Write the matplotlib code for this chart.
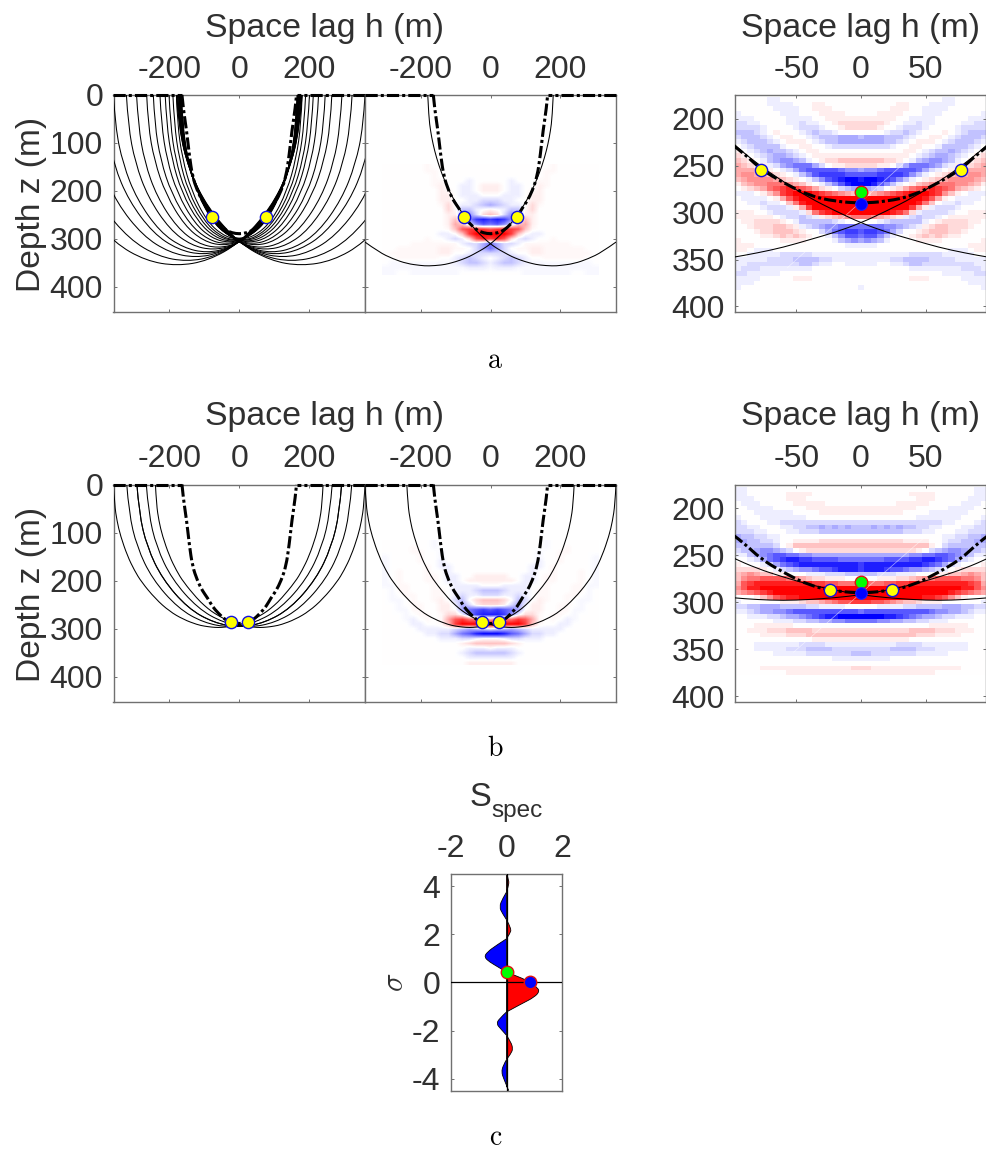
import numpy as np
from matplotlib import pyplot as plt
from matplotlib.patches import PathPatch
from matplotlib.path import Path

plt.rcParams["font.family"] = ["Liberation Sans", "DejaVu Sans"]
plt.rcParams["mathtext.fontset"] = "cm"

W = 986.0
H = 1151.0
TXT = "#303030"
EDGE = "#707070"

#########################################
### Curves (h, z in m)
#########################################
# thick dash-dot curve, left half, mirrored when drawn; flat along z=0 outside it
dash_h = [-164, -160, -151, -143, -134, -120, -105, -91, -77, -60, -40, -20, 0]
dash_z = [0, 30, 73, 125, 170, 200, 222, 236, 254, 268, 282, 288, 290]
flat_h = [-360, -164]
flat_z = [0, 0]

# row a, left panel family (the mirror image is drawn too)
fam_a_h = [
    [-536, -529, -500, -446, -357, -268, -178, -89, 1, 90, 144, 173, 180],
    [-479, -472, -446, -397, -315, -232, -150, -68, 15, 97, 146, 172, 179],
    [-426, -420, -396, -351, -276, -200, -125, -50, 26, 101, 146, 170, 176],
    [-387, -381, -359, -316, -246, -175, -105, -34, 36, 106, 149, 171, 177],
    [-360, -355, -333, -293, -227, -160, -93, -26, 41, 107, 147, 169, 174],
    [-323, -318, -298, -261, -199, -137, -75, -13, 49, 111, 148, 168, 173],
    [-294, -289, -271, -236, -178, -119, -61, -3, 56, 114, 149, 167, 172],
    [-265, -261, -243, -210, -156, -102, -47, 8, 62, 117, 149, 167, 171],
    [-246, -242, -225, -194, -142, -90, -38, 14, 66, 118, 149, 166, 170],
    [-227, -223, -207, -178, -128, -79, -29, 21, 70, 120, 149, 165, 169],
    [-212, -208, -193, -165, -117, -70, -22, 26, 73, 121, 149, 164, 168],
    [-201, -197, -183, -155, -109, -63, -17, 29, 75, 121, 149, 163, 167],
    [-190, -186, -172, -146, -101, -56, -12, 33, 77, 122, 148, 162, 166],
    [-180, -177, -163, -137, -94, -50, -7, 36, 80, 123, 149, 163, 166],
]
fam_a_z = [
    [0, 71, 156, 236, 309, 346, 357, 346, 309, 236, 156, 71, 0],
    [0, 69, 152, 230, 301, 337, 348, 337, 301, 230, 152, 69, 0],
    [0, 68, 148, 225, 294, 329, 340, 329, 294, 225, 148, 68, 0],
    [0, 66, 146, 221, 289, 323, 334, 323, 289, 221, 146, 66, 0],
    [0, 66, 144, 218, 286, 319, 330, 319, 286, 218, 144, 66, 0],
    [0, 64, 141, 214, 281, 314, 324, 314, 281, 214, 141, 64, 0],
    [0, 64, 140, 212, 277, 310, 320, 310, 277, 212, 140, 64, 0],
    [0, 63, 137, 208, 273, 305, 315, 305, 273, 208, 137, 63, 0],
    [0, 62, 136, 206, 270, 302, 312, 302, 270, 206, 136, 62, 0],
    [0, 61, 135, 204, 268, 299, 309, 299, 268, 204, 135, 61, 0],
    [0, 61, 134, 203, 266, 297, 307, 297, 266, 203, 134, 61, 0],
    [0, 61, 133, 202, 264, 295, 305, 295, 264, 202, 133, 61, 0],
    [0, 60, 133, 201, 263, 294, 304, 294, 263, 201, 133, 60, 0],
    [0, 60, 132, 200, 262, 292, 302, 292, 262, 200, 132, 60, 0],
]

# outer curve of row a, used in the middle and right panels
edge_a_h = [-360, -320, -280, -240, -200, -178, -140, -120, -100, -80, -60, -40, -20, 0, 20, 40, 60, 80, 100,
            120, 140, 155, 165, 172, 177, 180]
edge_a_z = [307, 328, 342, 352, 356, 357, 355, 352, 348, 343, 337, 329, 321, 311, 298, 284, 267, 248, 225,
            198, 164, 131, 102, 75, 46, 0]

# row b
edge_b_h = [-360, -357, -350, -340, -320, -300, -280, -240, -200, -160, -120, -100, -80, -60, -40, -20, 0, 20,
            40, 60, 80, 100, 120, 160, 180, 200, 220, 230, 237, 240]
edge_b_z = [0, 42, 76, 107, 149, 179, 203, 238, 264, 281, 292, 295, 297, 298, 297, 295, 292, 287,
            281, 273, 264, 252, 238, 203, 179, 149, 107, 76, 42, 0]
mid_b_h = [-322, -316, -293, -249, -175, -102, -28, 46, 119, 193, 237, 260, 266]
mid_b_z = [0, 59, 130, 197, 258, 288, 298, 288, 258, 197, 130, 59, 0]
cen_b_h = [-293, -287, -264, -220, -147, -73, 0, 73, 147, 220, 264, 287, 293]
cen_b_z = [0, 59, 130, 197, 258, 288, 298, 288, 258, 197, 130, 59, 0]

# yellow, green and blue points
yellow_a = (77, 255)
yellow_b = (24, 287)
green_z = 278
blue_z = 290.5

# faint white streak in the zoomed images
streak_a_h, streak_a_z = [-57, 35], [359, 245]
streak_b_h, streak_b_z = [-52, 48], [353, 232]

#########################################
### Images, half sections (h >= 0), scale -10..10
#########################################
zoom_z0 = 180  # first row depth, 5 m rows
zoom_dh = 5
zoom_a = [
    [0, 0, 0, 0, 0, 0, 0, 0, 0, 0, 0, 0, 0, -1, -1, 0, 0, 0, 0, 0],
    [0, 0, 0, 0, 0, 0, 1, 1, 0, 0, 0, -1, -1, -1, -1, 0, 0, 0, 0, 0],
    [0, 0, 0, 0, 0, 1, 1, 1, 0, 0, -1, -1, -1, -1, 0, 0, 0, 0, 0, 0],
    [0, 0, 0, 1, 1, 1, 1, 0, 0, 0, -1, -1, -1, 0, 0, 0, 0, 0, 0, -1],
    [1, 1, 1, 1, 1, 1, 0, 0, -1, -1, -1, -1, 0, 0, 0, 0, 0, -1, -1, -1],
    [2, 2, 2, 2, 1, 0, 0, -1, -1, -2, -1, -1, 0, 0, 0, 0, -1, -1, -2, -2],
    [2, 2, 2, 1, 0, 0, -1, -2, -2, -2, -1, 0, 0, 0, 0, -1, -2, -2, -2, -2],
    [0, 0, 0, 0, -1, -2, -2, -3, -2, -1, 0, 0, 0, 1, 0, -1, -2, -3, -3, -3],
    [-3, -4, -4, -4, -3, -3, -3, -2, -1, 0, 0, 1, 1, 0, -1, -2, -3, -3, -3, -2],
    [-4, -4, -4, -4, -3, -3, -2, -1, 0, 1, 1, 1, 0, -1, -2, -3, -3, -3, -2, -1],
    [-2, -2, -2, -2, -2, -1, 0, 0, 1, 1, 0, 0, -1, -3, -3, -3, -3, -2, -1, 0],
    [0, 0, 0, 0, 0, 0, 0, 1, 1, 0, -1, -2, -3, -3, -4, -3, -2, -1, 0, 1],
    [1, 1, 1, 1, 1, 1, 1, 1, 0, -1, -2, -3, -4, -4, -3, -2, -1, 0, 1, 2],
    [3, 3, 3, 3, 2, 2, 1, 0, -1, -3, -4, -5, -5, -4, -3, -1, 0, 1, 2, 3],
    [2, 2, 2, 1, 1, 0, -2, -4, -6, -6, -6, -5, -4, -2, -1, 1, 1, 2, 3, 4],
    [-4, -5, -5, -6, -7, -7, -7, -7, -7, -6, -4, -2, -1, 0, 1, 2, 3, 4, 4, 4],
    [-7, -7, -7, -8, -8, -8, -8, -7, -5, -3, -1, 0, 1, 2, 3, 4, 4, 5, 5, 4],
    [-9, -10, -10, -9, -8, -7, -5, -3, -1, 0, 1, 2, 3, 4, 5, 5, 5, 5, 4, 3],
    [-10, -10, -9, -7, -5, -3, -1, 0, 1, 3, 4, 5, 6, 6, 6, 5, 5, 4, 3, 1],
    [-5, -4, -3, -2, 0, 1, 2, 4, 6, 7, 8, 9, 8, 7, 6, 4, 3, 2, 1, 0],
    [2, 3, 4, 5, 6, 7, 8, 9, 10, 10, 10, 9, 8, 5, 3, 1, 0, -1, -1, -1],
    [9, 10, 10, 10, 10, 10, 10, 10, 10, 10, 9, 7, 4, 1, 0, -1, -1, -1, -1, 0],
    [10, 10, 10, 10, 10, 10, 10, 10, 10, 9, 6, 3, 0, -1, -1, -2, -1, -1, 0, 0],
    [10, 10, 10, 10, 10, 10, 10, 10, 8, 4, 1, -1, -2, -2, -2, -1, 0, 0, 0, 0],
    [10, 10, 10, 10, 10, 9, 8, 6, 2, -1, -2, -2, -2, -2, -1, 0, 0, 1, 1, 1],
    [6, 6, 5, 4, 3, 2, 1, -1, -2, -3, -2, -2, -1, 0, 1, 1, 1, 1, 1, 1],
    [0, 0, 0, -1, -2, -3, -3, -3, -3, -3, -1, 0, 1, 2, 2, 2, 2, 1, 1, 0],
    [-6, -6, -6, -6, -5, -5, -4, -3, -2, -1, 1, 2, 3, 3, 2, 2, 2, 1, 0, 0],
    [-7, -8, -8, -7, -6, -4, -2, 0, 0, 1, 2, 3, 3, 3, 2, 2, 1, 0, 0, 0],
    [-6, -7, -7, -5, -3, -1, 0, 0, 1, 2, 3, 2, 3, 2, 1, 1, 0, 0, 0, 0],
    [-4, -5, -4, -3, -1, 0, 0, 0, 0, 1, 1, 1, 1, 0, 0, 0, 0, 0, 0, 1],
    [-1, -1, -1, 0, 0, 0, 0, 0, 0, 0, 0, 0, 0, 0, 0, 0, 0, 1, 1, 1],
    [0, 0, 0, 0, 0, 0, 0, 0, 0, 0, 0, 0, 0, 0, -1, -1, -1, 0, 1, 1],
    [-1, -1, -1, -1, -1, -1, -1, -1, -2, -2, -2, -2, -2, -1, -1, -1, -1, -1, 0, 0],
    [-1, -1, -1, -1, -1, -2, -2, -3, -3, -3, -3, -2, -2, -2, -2, -1, -1, -1, -1, -1],
    [-1, -1, -1, 0, 0, -1, -1, -2, -3, -3, -2, -2, -2, -2, -2, -2, -2, -2, -1, -1],
    [0, 0, 0, 0, 0, 0, 0, 0, -1, -1, -1, -1, -1, -1, -1, -1, -2, -2, -2, -1],
    [0, 0, 0, 0, 0, 0, 0, 0, 0, 0, 0, 0, 0, -1, -1, -1, -1, -1, -2, -2],
    [0, 0, 0, 0, 0, 0, 0, 0, 1, 1, 1, 0, 0, 0, 0, 0, -1, -1, -1, -1],
    [0, 0, 0, 0, 0, 0, 0, 0, 0, 0, 0, 0, 0, 0, 0, 0, 0, -1, -1, -1],
    [-1, 0, 0, 0, 0, 0, 0, 0, 0, 0, 0, 0, 0, 0, 0, 0, 0, 0, 0, -1],
]
zoom_b = [
    [0, 0, 0, 0, 0, 0, 0, 0, 0, 0, 0, 0, 0, 0, 0, 0, 0, 0, -1, -1],
    [0, 0, 0, 0, 0, 0, 0, 0, 1, 1, 1, 1, 0, 0, 0, 0, 0, 0, -1, -1],
    [0, 0, 0, 0, 0, 0, 0, 0, 0, 1, 1, 1, 0, 0, 0, 0, 0, -1, -1, -1],
    [0, 0, 0, 0, 0, 0, 1, 1, 1, 1, 1, 0, 0, 0, 0, 0, -1, -1, -1, 0],
    [1, 1, 1, 1, 1, 1, 1, 1, 1, 0, 0, 0, 0, 0, -1, -1, -1, -1, 0, 0],
    [1, 1, 1, 1, 1, 1, 1, 0, 0, 0, 0, -1, -1, -1, -1, -1, -1, 0, 0, 0],
    [0, 0, 0, 0, 0, 0, 0, 0, 0, -1, -1, -1, -1, -1, -1, -1, 0, 0, 0, -1],
    [-2, -2, -2, -2, -2, -2, -2, -2, -2, -2, -2, -2, -2, -1, -1, 0, 0, 0, -1, -2],
    [-3, -3, -4, -3, -4, -3, -4, -3, -3, -2, -2, -1, -1, 0, 0, 0, -1, -1, -2, -2],
    [-3, -3, -3, -3, -3, -3, -3, -2, -2, -2, -1, -1, 0, 0, 0, -1, -1, -2, -2, -2],
    [0, 0, 0, 0, 0, 0, 0, 0, 0, 0, 0, 0, 0, -1, -1, -2, -2, -3, -3, -4],
    [2, 2, 2, 2, 2, 2, 2, 1, 1, 1, 1, 0, 0, -1, -2, -2, -3, -3, -4, -4],
    [3, 3, 3, 3, 3, 3, 3, 3, 3, 3, 3, 1, 0, -2, -3, -3, -3, -3, -3, -3],
    [2, 2, 2, 2, 2, 2, 2, 2, 2, 1, 0, -2, -3, -4, -5, -5, -4, -3, -3, -2],
    [-4, -4, -4, -4, -4, -4, -4, -4, -5, -5, -6, -6, -7, -7, -6, -5, -4, -3, -1, -1],
    [-6, -6, -6, -6, -7, -7, -7, -7, -8, -8, -9, -9, -8, -7, -6, -4, -2, -1, 0, 0],
    [-8, -9, -9, -9, -9, -9, -9, -9, -9, -9, -8, -7, -6, -4, -2, -1, 0, 0, 0, 1],
    [-8, -9, -9, -9, -8, -7, -7, -6, -5, -5, -4, -3, -2, -1, 0, 1, 2, 2, 2, 2],
    [-3, -3, -3, -2, -2, -2, -1, -1, -1, 0, 0, 0, 1, 1, 3, 3, 4, 5, 4, 3],
    [0, 0, 0, 1, 1, 1, 2, 2, 3, 4, 5, 6, 7, 7, 7, 7, 6, 6, 5, 3],
    [5, 6, 6, 6, 7, 7, 8, 8, 9, 9, 9, 9, 9, 9, 9, 9, 9, 8, 7, 4],
    [10, 10, 10, 10, 10, 10, 10, 10, 10, 10, 10, 10, 10, 10, 10, 10, 9, 9, 7, 5],
    [10, 10, 10, 10, 10, 10, 10, 10, 10, 10, 10, 10, 10, 10, 9, 8, 7, 6, 5, 4],
    [10, 10, 10, 10, 10, 10, 10, 10, 10, 10, 9, 9, 8, 7, 5, 3, 1, 0, 0, 0],
    [8, 8, 7, 7, 6, 5, 4, 3, 3, 2, 1, 1, 1, 0, 0, 0, 0, 0, 0, -1],
    [0, 0, 0, -1, -1, -1, -1, -2, -2, -3, -3, -3, -3, -4, -4, -4, -3, -3, -2, -2],
    [-6, -7, -7, -7, -7, -7, -7, -7, -7, -7, -7, -6, -5, -5, -4, -4, -3, -2, -1, -1],
    [-10, -10, -10, -10, -9, -9, -8, -7, -6, -5, -4, -4, -3, -2, -2, -1, -1, -1, 0, 0],
    [-6, -6, -6, -5, -5, -4, -4, -3, -3, -2, -2, -1, -1, -1, 0, 0, 0, 0, 0, 0],
    [0, 0, 0, 0, 0, 0, 0, 0, 0, 0, 0, 1, 1, 1, 1, 1, 1, 0, 0, 0],
    [2, 2, 2, 2, 2, 2, 2, 2, 3, 3, 3, 3, 2, 2, 2, 1, 1, 1, 0, 0],
    [3, 3, 3, 3, 3, 3, 3, 3, 3, 2, 2, 2, 1, 1, 1, 1, 0, 0, 0, 0],
    [1, 1, 1, 1, 1, 1, 1, 1, 0, 0, 0, 0, 0, 0, 0, 0, 0, 0, 0, 0],
    [-1, -1, -1, -1, -1, -1, -2, -2, -2, -2, -1, -1, -1, -1, -1, -1, -1, 0, 0, 0],
    [-2, -2, -2, -2, -2, -3, -3, -3, -3, -2, -2, -2, -1, -1, -1, -1, -1, 0, 0, 0],
    [-3, -3, -2, -2, -2, -2, -2, -2, -2, -1, -1, -1, -1, -1, 0, 0, 0, 0, 0, 0],
    [-1, -1, -1, -1, -1, 0, 0, 0, 0, 0, 0, 0, 0, 0, 0, 0, 0, 0, 0, 0],
    [0, 0, 0, 0, 0, 0, 0, 0, 0, 0, 0, 0, 0, 0, 0, 0, 0, 0, 0, 0],
    [2, 2, 1, 1, 1, 1, 1, 1, 1, 1, 1, 1, 1, 1, 1, 1, 0, 0, 0, 0],
    [1, 1, 1, 1, 1, 1, 1, 1, 1, 1, 1, 1, 0, 0, 0, 0, 0, 0, 0, 0],
]

# coarse sections for the middle panels, 20 m columns, 10 m rows
wide_dh = 20
wide_a_z0 = 150
wide_a = [
    [0, 0, 0, 0, 0, 0, 0, 0, 0, 0.5, 0, 0, 0, 0, 0, 0],
    [0, 0, 0, 0, 0, 0, 0, 0, 0.5, 0.5, 0, 0, 0, 0, 0, 0],
    [0, 0, 0, 0, 0, 0, 0, 0, 0.5, 0, 0, 0, 0, 0, 0, 0],
    [0, 0, 0, -1, 0, 0, 0, 0.5, 0.5, 0, 0, 0, 0, 0, 0, 0],
    [1, 1, 0, -1, -1, 0, 0, 1, 0.5, 0, 0, 0, 0, 0, 0, 0],
    [1, 1, 0, -1, -1, 0, 0.5, 1, 0, 0, 0, 0, 0, 0, 0, 0],
    [0, 0, -1, -1, -1, 0, 1, 1, 0, 0, 0, 0, 0, 0, 0, 0],
    [-2, -2, -1, -1, 0, 0, 1, 1, 0, 0, 0, 0, 0, 0, 0, 0],
    [-4, -3, -2, -1, -1, 0, 2, 0.5, 0, 0, 0, 0, 0, 0, 0, 0],
    [1, 0, -1, -3, -3, 0.5, 2, 0, 0, 0, 0, 0, 0, 0, 0, 0],
    [3, 2, -2, -5, -3, 1, 1, 0, 0, 0, 0, 0, 0, 0, 0, 0],
    [-8, -9, -8, -5, -1, 3, 1, 0, 0, 0, 0, 0, 0, 0, 0, 0],
    [-6, -7, -5, -2, 3, 4, 1, 0, 0, 0, 0, 0, 0, 0, 0, 0],
    [7, 8, 8, 8, 7, 3, 0.5, 0, 0, 0, 0, 0, 0, 0, 0, 0],
    [10, 10, 10, 8, 3, 0, -1, -1, 0, 0, 0, 0, 0, 0, 0, 0],
    [8, 9, 7, 2, -1, -2, -1, 0, 0, 0.5, 0, 0, 0, 0, 0, 0],
    [-6, -4, -2, -2, -1, 0.5, 0.5, 0.5, 0.5, 0.5, 0.5, 0.5, 0, 0, 0, 0],
    [-6, -4, -2, 0, 0.5, 0.5, 1, 1, 0.5, 0.5, 0.5, 0.5, 0.5, 0.5, 0, 0],
    [-2, -2, -2, -1, 0, 0, 1, 1, 0.5, 0.5, 0.5, 0.5, 0.5, 0.5, 0.5, 0],
    [0, -1, -2, -3, -2, -1, 0, 0, 0.5, 0.5, 0.5, 0.5, 0.5, 0.5, 0, 0],
    [-1, -2, -3, -3, -2, -1, -0.5, -0.5, -0.5, -0.5, -0.5, -0.5, -0.5, -0.5, -0.5, 0],
    [-0.5, -1, -1, -1, -0.5, -0.5, -0.5, -0.5, -0.5, -0.5, -0.5, -0.5, -0.5, -0.5, -0.5, -0.5],
    [0, 0, 0, 0, 0, -0.5, -0.5, -0.5, -0.5, -0.5, -0.5, -0.5, 0, 0, -0.5, -0.5],
]
wide_b_z0 = 120
wide_b = [
    [0, 0, 0, 0, 0, 0, 0, 0, -0.5, 0, 0, 0, 0, 0, 0, 0],
    [0, 0, 0, 0, 0, 0, 0, 0, -0.5, 0, 0, 0.5, 0, 0, 0, 0],
    [0, 0, 0, 0, 0, 0, 0, -0.5, 0, 0, 0.5, 0.5, 0, 0, 0, 0],
    [0, 0, 0, 0, 0, 0, 0, -0.5, 0, 0, 0.5, 0, 0, 0, 0, -0.5],
    [0, 0, 0, 0, 0, 0, 0, -1, 0, 0, 0.5, 0, 0, 0, 0, -0.5],
    [0, 0, 0, 0, 0, 0, -1, -1, 0, 0.5, 0, 0, 0, 0, 0, -0.5],
    [0, 0, 0, 0, 0, 0, -1, 0, 0, 0.5, 0, 0, 0, 0.5, 0, -0.5],
    [1, 1, 1, 0, 0, -1, -1, 0, 0.5, 0.5, 0, 0, 0, 0.5, 0, -0.5],
    [1, 1, 1, 1, 0, -1, -1, 0, 0.5, 0.5, 0, 0, 0, 0.5, 0, -0.5],
    [0, 0, -1, -1, -1, -1, 0, 0, 0.5, 0, 0, 0, 0.5, 0.5, -0.5, -0.5],
    [-3, -3, -2, -1, -1, -1, 0, 0.5, 0.5, 0, 0, 0, 0.5, 0.5, -0.5, 0],
    [-2, -2, -1, -1, -2, -1, 0, 0.5, 0.5, 0, 0, 0.5, 0.5, 0, -0.5, 0],
    [3, 3, 2, 0, -3, -2, 0, 1, 0.5, 0, 0, 0.5, 0, -0.5, -0.5, 0],
    [2, 2, 1, -2, -4, -1, 1, 1, 0, 0, 0.5, 0.5, 0, -0.5, 0, 0],
    [-7, -8, -7, -6, -4, 0, 1, 1, 0, 0, 0.5, 0.5, -0.5, -0.5, 0, 0],
    [-9, -9, -8, -5, -1, 2, 2, 0.5, 0, 0.5, 0.5, 0, -0.5, 0, 0, 0],
    [4, 6, 6, 6, 8, 7, 4, 0.5, 0, 0.5, 0, -1, -0.5, 0, 0, 0],
    [10, 10, 10, 10, 10, 8, 3, 0.5, 0, 0, -1, -1, 0, 0, 0, 0],
    [-1, -2, -3, -4, -3, -2, -1, -1, -1, -1, -1, 0, 0, 0, 0, 0],
    [-10, -10, -9, -7, -6, -4, -2, -2, -1, -1, 0, 0, 0, 0, 0, 0],
    [0, 0, -1, -2, -2, -1, -1, -1, 0, 0, 0, 0, 0, 0, 0, 0],
    [3, 3, 3, 2, 1, 0, 0, 0, 0, 0, 0, 0, 0, 0, 0, 0],
    [0, -1, -1, -1, 0, 0, 0, 0, 0, 0, 0, 0, 0, 0, 0, 0],
    [-3, -3, -3, -2, -1, 0, 0, 0, 0, 0, 0, 0, 0, 0, 0, 0],
    [-1, -1, -1, -1, 0, 0, 0, 0, 0, 0, 0, 0, 0, 0, 0, 0],
    [1, 1, 1, 1, 0, 0, 0, 0, 0, 0, 0, 0, 0, 0, 0, 0],
]

#########################################
### S_spec trace
#########################################
sigma = [4.5, 4.24, 3.96, 3.75, 3.48, 3.13, 2.85, 2.6, 2.23, 2.02, 1.81, 1.54, 1.26, 1.05, 0.84, 0.64, 0.42,
         0.22, 0.0, -0.19, -0.36, -0.61, -0.89, -1.23, -1.51, -1.72, -1.93, -2.2, -2.48, -2.76, -2.96, -3.21,
         -3.45, -3.73, -4.0, -4.28, -4.42, -4.5]
sspec = [0.0, 0.1, 0.06, 0.0, -0.14, -0.26, -0.14, 0.0, 0.18, 0.12, 0.0, -0.36, -0.69, -0.8, -0.6, -0.3, 0.0,
         0.48, 0.84, 1.07, 1.19, 1.01, 0.54, 0.0, -0.26, -0.36, -0.21, 0.0, 0.16, 0.23, 0.16, 0.0,
         -0.12, -0.18, -0.1, 0.0, 0.07, 0.06]
green_c = (0.0, 0.41)
blue_c = (0.86, 0.0)


def ax_px(fig, x0, y0, x1, y1):
    # pixel box, y counted from the top
    ax = fig.add_axes([x0 / W, 1 - y1 / H, (x1 - x0) / W, (y1 - y0) / H])
    for s in ax.spines.values():
        s.set_color(EDGE)
        s.set_linewidth(1.0)
    ax.tick_params(
        direction="in", length=2.5, width=0.7, color=EDGE, top=True, bottom=True, left=True, right=True,
        labeltop=True, labelbottom=False, labelsize=23, labelcolor=TXT, pad=7.5,
    )
    return ax


def smooth_path(x, y, close=False):
    # quadratic pieces through the midpoints of the read points
    pts = np.column_stack([x, y]).astype(float)
    verts = [pts[0]]
    codes = [Path.MOVETO]
    for i in range(1, len(pts) - 1):
        end = pts[i + 1] if i == len(pts) - 2 else (pts[i] + pts[i + 1]) / 2
        verts += [pts[i], end]
        codes += [Path.CURVE3, Path.CURVE3]
    if close:
        verts.append(pts[0])
        codes.append(Path.CLOSEPOLY)
    return Path(verts, codes)


def full_section(half):
    half = np.array(half, dtype=float)
    # the faintest tints were read a bit strong
    half = np.sign(half) * np.abs(half) ** 1.2 / 10**0.2
    return np.hstack([half[:, :0:-1], half])


def show_section(ax, half, z0, dz, dh, interp):
    data = full_section(half)
    nr, nc = data.shape
    ext = [-(nc / 2) * dh, (nc / 2) * dh, z0 - dz / 2 + nr * dz, z0 - dz / 2]
    ax.imshow(data, cmap="bwr", vmin=-10, vmax=10, extent=ext, aspect="auto", interpolation=interp, zorder=1)


def plot_dash(ax, clip):
    hh = np.array(dash_h + [-v for v in dash_h[-2::-1]])
    zz = np.array(dash_z + dash_z[-2::-1])
    style = (0, (4, 1, 1, 1))
    p = PathPatch(smooth_path(hh, zz), fill=False, ec="k", lw=2.2, ls=style, capstyle="butt", zorder=4)
    ax.add_patch(p)
    p.set_clip_on(clip)
    for sgn in (1, -1):
        ax.plot(sgn * np.array(flat_h), flat_z, color="k", lw=2.2, ls=style, clip_on=clip, zorder=4)


def yellow(ax, pos):
    ax.plot([-pos[0], pos[0]], [pos[1], pos[1]], "o", ms=8.8, mfc="#ffff00", mec="#1010e0", mew=1.0, zorder=5)


def thin(ax, h, z):
    h = np.array(h)
    ax.add_patch(PathPatch(smooth_path(h, z), fill=False, ec="k", lw=0.75, zorder=3))
    ax.add_patch(PathPatch(smooth_path(-h, z), fill=False, ec="k", lw=0.75, zorder=3))


def wide_axes(ax):
    ax.set_xlim(-360, 360)
    ax.set_ylim(453, 0)
    ax.set_xticks([-200, 0, 200])
    ax.set_xticklabels(["-200", "0", "200"])
    ax.set_yticks([0, 100, 200, 300, 400])


def zoom_axes(ax):
    ax.set_xlim(-97, 96.5)
    ax.set_ylim(406, 174.5)
    ax.set_xticks([-50, 0, 50])
    ax.set_xticklabels(["-50", "0", "50"])
    ax.set_yticks([200, 250, 300, 350, 400])
    ax.tick_params(labelleft=True)


def dots(ax):
    ax.plot([0], [green_z], "o", ms=9.0, mfc="#00ff00", mec="#e01010", mew=1.0, zorder=6)
    ax.plot([0], [blue_z], "o", ms=8.4, mfc="#0000ff", mec="#2020ff", mew=0.8, zorder=6)


fig = plt.figure(figsize=(W / 100, H / 100), dpi=100)

# row tops and bottoms, panel edges in pixels
rows = [(95, 312), (484.5, 702)]
for r, (top, bot) in enumerate(rows):
    left = ax_px(fig, 113.5, top, 365, bot)
    mid = ax_px(fig, 365, top, 616, bot)
    right = ax_px(fig, 735.3, top, 986, bot)
    left.tick_params(labelleft=True)
    mid.tick_params(labelleft=False)

    if r == 0:
        for h, z in zip(fam_a_h, fam_a_z):
            thin(left, h, z)
        show_section(mid, wide_a, wide_a_z0, 10, wide_dh, "bilinear")
        thin(mid, edge_a_h, edge_a_z)
        show_section(right, zoom_a, zoom_z0, 5, zoom_dh, "nearest")
        right.plot(streak_a_h, streak_a_z, color="w", lw=0.5, alpha=0.6, zorder=2)
        thin(right, edge_a_h, edge_a_z)
        pos = yellow_a
    else:
        thin(left, edge_b_h, edge_b_z)
        thin(left, mid_b_h, mid_b_z)
        thin(left, cen_b_h, cen_b_z)
        show_section(mid, wide_b, wide_b_z0, 10, wide_dh, "bilinear")
        thin(mid, edge_b_h, edge_b_z)
        show_section(right, zoom_b, zoom_z0, 5, zoom_dh, "nearest")
        right.plot(streak_b_h, streak_b_z, color="w", lw=0.5, alpha=0.6, zorder=2)
        thin(right, edge_b_h, edge_b_z)
        pos = yellow_b

    for ax in (left, mid):
        plot_dash(ax, False)
        yellow(ax, pos)
        wide_axes(ax)
    plot_dash(right, True)
    yellow(right, pos)
    dots(right)
    zoom_axes(right)

    y_lab = 28 if r == 0 else 416
    fig.text(324.5 / W, 1 - y_lab / H, "Space lag h (m)", fontsize=24.4, color=TXT, ha="center", va="center")
    fig.text(860.5 / W, 1 - y_lab / H, "Space lag h (m)", fontsize=24.4, color=TXT, ha="center", va="center")
    y_mid = top + 109.5
    fig.text(32 / W, 1 - y_mid / H, "Depth z (m)", fontsize=24.1, color=TXT, ha="center", va="center", rotation=90)

# panel c
axc = ax_px(fig, 450.7, 874, 562.3, 1090.7)
axc.tick_params(labelleft=True)
sg = np.array(sigma)
sp = np.array(sspec)
# one smooth lobe between each pair of zero crossings
zeros = list(np.where(sp == 0)[0]) + [len(sp) - 1]
for i0, i1 in zip(zeros[:-1], zeros[1:]):
    seg = sp[i0 : i1 + 1]
    col = "#ff0000" if seg.sum() > 0 else "#0000ff"
    axc.add_patch(PathPatch(smooth_path(seg, sg[i0 : i1 + 1], close=True), fc=col, ec="k", lw=0.6, zorder=2))
axc.axvline(0, color="k", lw=0.9, zorder=3)
axc.axhline(0, color="k", lw=0.9, zorder=3)
axc.plot([green_c[0]], [green_c[1]], "o", ms=9.0, mfc="#00ff00", mec="#e01010", mew=1.0, zorder=6)
axc.plot([blue_c[0]], [blue_c[1]], "o", ms=9.0, mfc="#0000ff", mec="#e01010", mew=1.0, zorder=6)
axc.set_xlim(-2, 2)
axc.set_ylim(-4.5, 4.5)
axc.set_xticks([-2, 0, 2])
axc.set_xticklabels(["-2", "0", "2"])
axc.set_yticks([-4, -2, 0, 2, 4])
axc.set_yticklabels(["-4", "-2", "0", "2", "4"])
fig.text(470 / W, 1 - 806 / H, "S", fontsize=23.6, color=TXT, ha="left", va="baseline")
fig.text(491 / W, 1 - 817 / H, "spec", fontsize=17.5, color=TXT, ha="left", va="baseline")
fig.text(395 / W, 1 - 982 / H, r"$\sigma$", fontsize=22, color=TXT, ha="center", va="center", rotation=90)

# captions
for lab, yy in zip(["a", "b", "c"], [361, 749, 1138]):
    fig.text(495 / W, 1 - yy / H, lab, fontsize=20, family="cmr10", color="k", ha="center", va="center")

plt.savefig("out.png", dpi=100)
